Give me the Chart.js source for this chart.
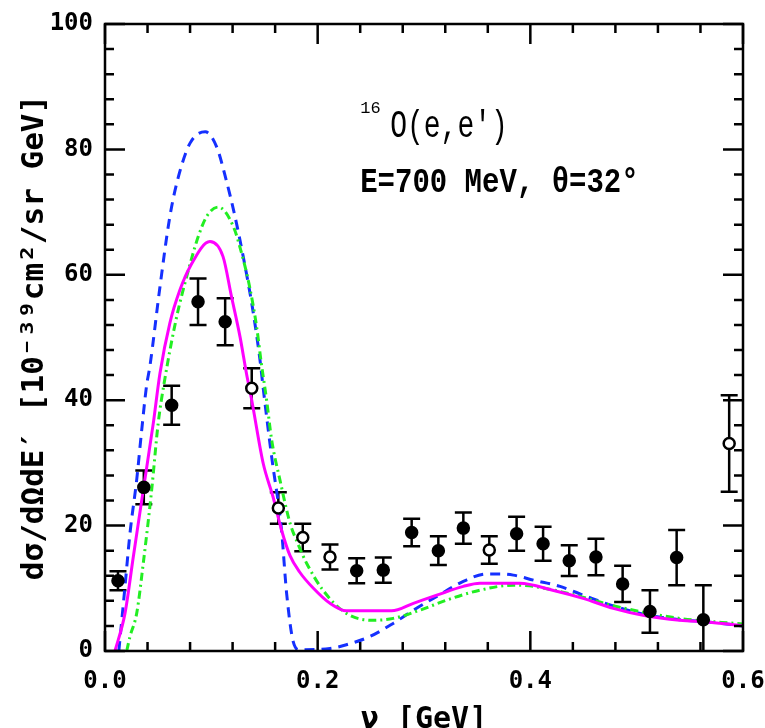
<!DOCTYPE html>
<html>
<head>
<meta charset="utf-8">
<script src="https://cdn.jsdelivr.net/npm/chart.js@4.4.1/dist/chart.umd.min.js"></script>
<style>
  html, body { margin: 0; padding: 0; background: #fff; }
</style>
</head>
<body>
<canvas id="c" width="765" height="728"></canvas>
<script>
// measured points (nu in GeV, cross section, error)
const dataNu = [0.0122, 0.0365, 0.0627, 0.0875, 0.113, 0.138, 0.163, 0.186, 0.2116, 0.2367, 0.2617, 0.2884,
                0.3135, 0.337, 0.3614, 0.3871, 0.412, 0.4366, 0.4617, 0.4868, 0.5125, 0.5376, 0.5627, 0.587];
const dataXs = [11.2, 26.1, 39.2, 55.7, 52.5, 41.9, 22.8, 18.1, 15.0, 12.8, 12.9, 18.9,
                16.0, 19.6, 16.1, 18.7, 17.1, 14.4, 15.0, 10.7, 6.3, 14.9, 5.0, 33.1];
const dataErr = [1.5, 2.7, 3.1, 3.7, 3.75, 3.2, 2.5, 2.2, 2.0, 2.0, 2.0, 2.2,
                 2.3, 2.5, 2.2, 2.7, 2.7, 2.45, 2.9, 2.9, 3.4, 4.4, 5.5, 7.7];
const openPts = [5, 6, 7, 8, 14, 23];   // hollow markers

// blue dashed curve
const blueNu = [0.013, 0.0188, 0.0235, 0.0298, 0.0345, 0.039, 0.0423, 0.0517, 0.061, 0.069, 0.080, 0.0943,
                0.105, 0.114, 0.122, 0.130, 0.139, 0.1457, 0.149, 0.1567, 0.166, 0.1708, 0.177, 0.183,
                0.2116, 0.227, 0.249, 0.271, 0.29, 0.312, 0.337, 0.359, 0.371, 0.384, 0.403, 0.428,
                0.453, 0.478, 0.506, 0.5405, 0.569, 0.6];
const blueXs = [0, 10.3, 18.8, 27.3, 35.2, 42.2, 45.5, 58.1, 69.3, 75.6, 81.0, 82.8,
                80.4, 75.1, 69.5, 62.9, 54.4, 46.5, 41.6, 31.0, 19.3, 9.2, 1.5, 0.2,
                0.4, 1.0, 2.3, 4.4, 6.5, 8.7, 11.1, 12.3, 12.3, 12.1, 11.3, 10.3,
                8.7, 7.2, 5.9, 5.0, 4.6, 4.0];

// green dash-dot curve
const greenNu = [0.0204, 0.0235, 0.0298, 0.036, 0.0439, 0.050, 0.0564, 0.0674, 0.0768, 0.0877, 0.0956, 0.1065,
                 0.1207, 0.1285, 0.136, 0.1426, 0.147, 0.152, 0.1567, 0.1645, 0.174, 0.1817, 0.1896, 0.205,
                 0.227, 0.252, 0.271, 0.296, 0.321, 0.3525, 0.384, 0.403, 0.44, 0.481, 0.5405, 0.6];
const greenXs = [0, 2.3, 6.0, 14.0, 25.7, 36.3, 43.5, 53.3, 59.7, 66.1, 69.3, 70.8,
                 67.7, 63.4, 58.1, 51.7, 45.9, 40.0, 33.7, 27.3, 20.4, 17.0, 14.0, 9.7,
                 6.0, 4.9, 5.2, 6.5, 8.1, 9.7, 10.5, 10.3, 9.0, 7.1, 5.2, 4.3];

// magenta solid curve
const magNu = [0.0094, 0.0188, 0.0266, 0.036, 0.0454, 0.0517, 0.061, 0.0705, 0.080, 0.0987, 0.111, 0.119,
               0.127, 0.133, 0.138, 0.1488, 0.158, 0.166, 0.174, 0.183, 0.196, 0.2116, 0.227, 0.2695,
               0.29, 0.312, 0.337, 0.3525, 0.39, 0.421, 0.4496, 0.478, 0.506, 0.5405, 0.569, 0.6];
const magXs = [0, 6.0, 15.0, 25.7, 36.3, 44.3, 52.3, 57.6, 61.3, 65.3, 62.9, 56.5,
               50.1, 44.3, 40.0, 29.9, 24.6, 19.3, 15.2, 12.6, 10.0, 7.6, 6.4, 6.4,
               7.6, 8.9, 10.3, 10.8, 10.8, 9.7, 8.4, 6.8, 5.7, 4.9, 4.6, 4.0];

const pts = (xs, ys) => xs.map((x, i) => ({x: x, y: ys[i]}));
const onStep = (v, s) => Math.abs(v / s - Math.round(v / s)) < 1e-6;
const tickFont = {family: 'DejaVu Sans Mono', size: 24, weight: 'bold'};

// error bars under the markers
const errorBars = {
  id: 'errorBars',
  beforeDatasetsDraw(chart) {
    const {ctx, chartArea: a, scales: {x, y}} = chart;
    ctx.save();
    ctx.beginPath();
    ctx.rect(a.left, a.top, a.right - a.left, a.bottom - a.top);
    ctx.clip();
    ctx.strokeStyle = '#000';
    ctx.lineWidth = 2.5;
    ctx.beginPath();
    dataNu.forEach((nu, i) => {
      const px = x.getPixelForValue(nu);
      const top = y.getPixelForValue(dataXs[i] + dataErr[i]);
      const bot = y.getPixelForValue(dataXs[i] - dataErr[i]);
      ctx.moveTo(px, top); ctx.lineTo(px, bot);
      ctx.moveTo(px - 8.5, top); ctx.lineTo(px + 8.5, top);
      ctx.moveTo(px - 8.5, bot); ctx.lineTo(px + 8.5, bot);
    });
    ctx.stroke();
    ctx.restore();
  }
};

// box frame with inward ticks on all four sides
const frame = {
  id: 'frame',
  afterDraw(chart) {
    const {ctx, chartArea: a, scales: {x, y}} = chart;
    ctx.save();
    ctx.strokeStyle = '#000';
    ctx.lineWidth = 2.5;
    ctx.strokeRect(a.left, a.top, a.right - a.left, a.bottom - a.top);
    ctx.beginPath();
    x.ticks.forEach(t => {
      const px = x.getPixelForValue(t.value);
      const len = onStep(t.value, 0.2) ? 20 : 9;
      ctx.moveTo(px, a.bottom); ctx.lineTo(px, a.bottom - len);
      ctx.moveTo(px, a.top); ctx.lineTo(px, a.top + len);
    });
    y.ticks.forEach(t => {
      const py = y.getPixelForValue(t.value);
      const len = onStep(t.value, 20) ? 20 : 9;
      ctx.moveTo(a.left, py); ctx.lineTo(a.left + len, py);
      ctx.moveTo(a.right, py); ctx.lineTo(a.right - len, py);
    });
    ctx.stroke();
    ctx.restore();
  }
};

// reaction label in the upper right
const annot = {
  id: 'annot',
  afterDraw(chart) {
    const {ctx, scales: {x, y}} = chart;
    const x0 = x.getPixelForValue(0.24);
    ctx.save();
    ctx.fillStyle = '#000';
    ctx.font = '17px "Liberation Mono"';
    ctx.fillText('16', x0, y.getPixelForValue(85.8));
    ctx.translate(x0 + 30, y.getPixelForValue(82));
    ctx.scale(1, 1.4);
    ctx.font = '28px "Liberation Mono"';
    ctx.fillText("O(e,e')", 0, 0);
    ctx.restore();
    ctx.save();
    ctx.fillStyle = '#000';
    ctx.translate(x0, y.getPixelForValue(73.2));
    ctx.scale(1, 1.2);
    ctx.font = 'bold 29px "Liberation Mono"';
    ctx.fillText('E=700 MeV, θ=32°', 0, 0);
    ctx.restore();
  }
};

new Chart(document.getElementById('c'), {
  type: 'scatter',
  data: {
    datasets: [
      {
        label: 'data',
        data: pts(dataNu, dataXs),
        pointRadius: 5.5,
        pointBackgroundColor: dataNu.map((_, i) => openPts.includes(i) ? '#fff' : '#000'),
        pointBorderColor: '#000',
        pointBorderWidth: 2.5,
        showLine: false
      },
      {
        label: 'magenta',
        data: pts(magNu, magXs),
        showLine: true,
        borderColor: '#ff00ff',
        borderWidth: 3,
        pointRadius: 0,
        cubicInterpolationMode: 'monotone'
      },
      {
        label: 'green',
        data: pts(greenNu, greenXs),
        showLine: true,
        borderColor: '#22ee22',
        borderWidth: 3,
        borderDash: [8, 4, 2, 4],
        pointRadius: 0,
        cubicInterpolationMode: 'monotone'
      },
      {
        label: 'blue',
        data: pts(blueNu, blueXs),
        showLine: true,
        borderColor: '#1530ff',
        borderWidth: 3,
        borderDash: [10, 7],
        pointRadius: 0,
        cubicInterpolationMode: 'monotone'
      }
    ]
  },
  options: {
    responsive: false,
    animation: false,
    layout: {padding: {top: 24, right: 22, left: 0, bottom: 0}},
    plugins: {legend: {display: false}, tooltip: {enabled: false}},
    scales: {
      x: {
        type: 'linear', min: 0, max: 0.6,
        grid: {display: false, drawTicks: false},
        border: {display: false},
        ticks: {
          stepSize: 0.04, autoSkip: false, maxRotation: 0, padding: 16,
          color: '#000', font: tickFont,
          callback: v => onStep(v, 0.2) ? v.toFixed(1) : ''
        },
        title: {display: true, text: 'ν [GeV]', color: '#000',
                font: {family: 'DejaVu Sans Mono', size: 30, weight: 'bold'}, padding: {top: 0, bottom: -10}},
        afterFit: s => { s.height = 77; s.paddingLeft = 0; s.paddingRight = 0; }
      },
      y: {
        min: 0, max: 100,
        grid: {display: false, drawTicks: false},
        border: {display: false},
        ticks: {
          stepSize: 4, autoSkip: false, padding: 12,
          color: '#000', font: tickFont,
          callback: v => onStep(v, 20) ? String(v) : ''
        },
        title: {display: true, text: 'dσ/dΩdE′ [10⁻³⁹cm²/sr GeV]', color: '#000',
                font: {family: 'DejaVu Sans Mono', size: 31, weight: 'bold'}, padding: {top: 16, bottom: 0}},
        afterFit: s => { s.width = 105; s.paddingTop = 0; s.paddingBottom = 0; }
      }
    }
  },
  plugins: [errorBars, frame, annot]
});
</script>
</body>
</html>
